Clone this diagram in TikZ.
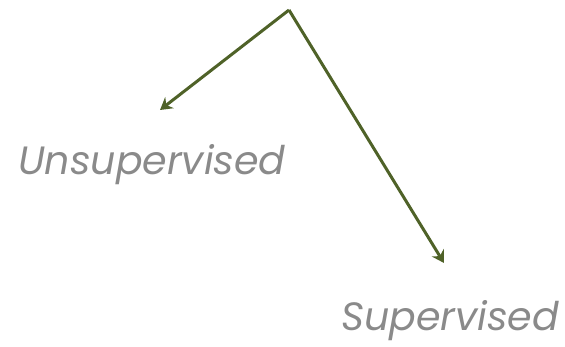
\documentclass[tikz,border=0pt]{standalone}
\usepackage{fontspec}
\setsansfont{Poppins}
\usetikzlibrary{arrows.meta}
\definecolor{olive}{HTML}{4F6228}
\definecolor{label}{HTML}{8A8A8A}

\begin{document}
\begin{tikzpicture}[
  x=1pt, y=-1pt,
  font=\sffamily,
  kind/.style={anchor=base west, inner sep=0pt, text=label,
    font=\sffamily\itshape\fontsize{39.5}{44}\selectfont},
  branch/.style={-{Stealth[length=12pt,width=14pt,inset=4pt]}, line width=3pt, draw=olive}
]

\path[use as bounding box] (0,0) rectangle (565,346);

\coordinate (root) at (289,10);
\coordinate (left) at (160,110);
\coordinate (right) at (444,263);

\draw[branch] (root) -- (left);
\draw[branch] (root) -- (right);

\node[kind] (unsup) at (18,174) {Unsupervised};
\node[kind] (sup) at (341,330) {Supervised};

\end{tikzpicture}
\end{document}
